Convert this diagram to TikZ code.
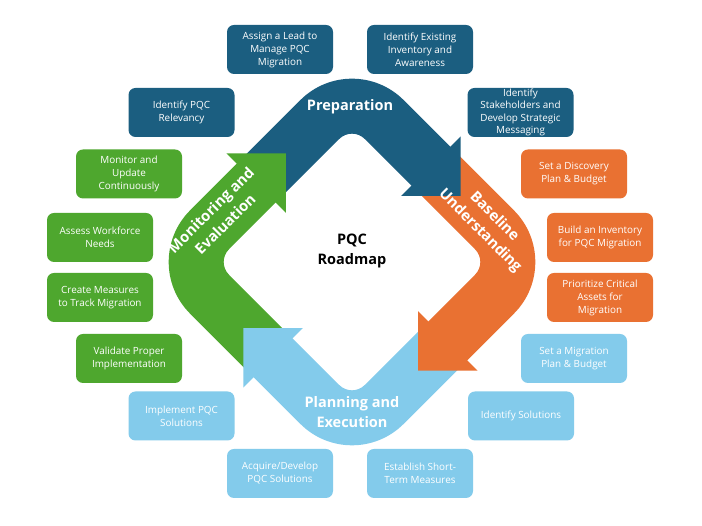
\documentclass[tikz,border=0pt]{standalone}
\usepackage{fontspec}
\setmainfont{Open Sans}
\definecolor{dblue}{HTML}{1B5E80}
\definecolor{orng}{HTML}{E97132}
\definecolor{grn}{HTML}{4EA72E}
\definecolor{lblue}{HTML}{83CBEB}
\newcommand\ShaftAt[2]{\fill[#2, shift={(352,264)}, rotate=#1] (-8,151) -- (78,151) arc[start angle=90,end angle=0,radius=73] -- (151,10) -- (96,10) -- (96,78) arc[start angle=0,end angle=90,radius=18] -- (-8,96) -- cycle;}
\newcommand\HeadAt[2]{\fill[#2, shift={(352,264)}, rotate=#1] (81.5,12) -- (165.5,12) -- (123.5,-30) -- cycle;}
\tikzset{
  task/.style={rounded corners=7pt, minimum width=106pt, minimum height=49pt, align=center, inner sep=0pt, text=white, font=\fontsize{9.9}{13}\selectfont},
  phase/.style={align=center, text=white, inner sep=0pt, font=\bfseries\fontsize{14.5}{19.5}\selectfont},
  rphase/.style={align=center, text=white, inner sep=0pt, font=\bfseries\fontsize{14.8}{20}\selectfont}
}
\begin{document}
\begin{tikzpicture}[x=1pt,y=1pt]
\useasboundingbox (0,0) rectangle (702,526);
\fill[white] (0,0) rectangle (702,526);
% shafts
\ShaftAt{45}{dblue}
\ShaftAt{-45}{orng}
\ShaftAt{-135}{lblue}
\ShaftAt{135}{grn}
% heads
\HeadAt{45}{dblue}
\HeadAt{-45}{orng}
\HeadAt{-135}{lblue}
\HeadAt{135}{grn}
% phase labels
\node[phase] (prep) at (350,419) {Preparation};
\node[rphase, rotate=-45] (base) at (487,302) {Baseline\\Understanding};
\node[phase] (plan) at (352,114) {Planning and\\Execution};
\node[rphase, rotate=45] (mon) at (218,309) {Monitoring and\\Evaluation};
\node[align=center, inner sep=0pt, font=\bfseries\fontsize{14.5}{20}\selectfont] (center) at (352,275) {PQC\\Roadmap};
% tasks: preparation
\node[task, fill=dblue] (t1) at (280,476.5) {Assign a Lead to\\Manage PQC\\Migration};
\node[task, fill=dblue] (t2) at (420,476.5) {Identify Existing\\Inventory and\\Awareness};
\node[task, fill=dblue] (t3) at (181.5,413.5) {Identify PQC\\Relevancy};
\node[task, fill=dblue, font=\fontsize{9.9}{12.6}\selectfont] (t4) at (520.5,413.5) {Identify\\Stakeholders and\\Develop Strategic\\Messaging};
% baseline
\node[task, fill=orng] (b1) at (574,352) {Set a Discovery\\Plan \& Budget};
\node[task, fill=orng] (b2) at (600,288.5) {Build an Inventory\\for PQC Migration};
\node[task, fill=orng] (b3) at (600,228.5) {Prioritize Critical\\Assets for\\Migration};
% planning
\node[task, fill=lblue] (p1) at (574,167.5) {Set a Migration\\Plan \& Budget};
\node[task, fill=lblue] (p2) at (521,110) {Identify Solutions};
\node[task, fill=lblue] (p3) at (420,52.5) {Establish Short-\\Term Measures};
\node[task, fill=lblue] (p4) at (280,52.5) {Acquire/Develop\\PQC Solutions};
\node[task, fill=lblue] (p5) at (181.5,110) {Implement PQC\\Solutions};
% monitoring
\node[task, fill=grn] (m1) at (129,167.5) {Validate Proper\\Implementation};
\node[task, fill=grn] (m2) at (100,228.5) {Create Measures\\to Track Migration};
\node[task, fill=grn] (m3) at (100,288.5) {Assess Workforce\\Needs};
\node[task, fill=grn] (m4) at (129,352) {Monitor and\\Update\\Continuously};
\end{tikzpicture}
\end{document}
